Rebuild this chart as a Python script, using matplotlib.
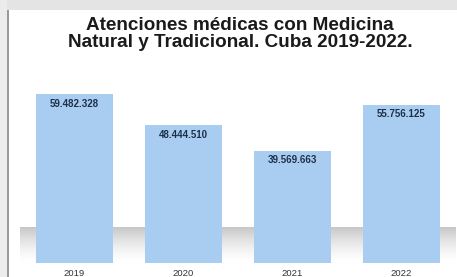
import matplotlib
matplotlib.use("Agg")
import matplotlib.pyplot as plt
import numpy as np
from matplotlib.patches import Rectangle

years = ["2019", "2020", "2021", "2022"]
atenciones = [59482328, 48444510, 39569663, 55756125]
etiquetas = ["59.482.328", "48.444.510", "39.569.663", "55.756.125"]

plt.rcParams["font.family"] = ["Liberation Sans", "DejaVu Sans"]

fig = plt.figure(figsize=(4.57, 2.77), dpi=100)
fig.patch.set_facecolor("white")

# slide frame: grey band on top, grey strip + rule at the left
fig.patches.append(Rectangle((0, 1 - 10 / 277), 1, 10 / 277, transform=fig.transFigure,
                             facecolor="#e4e4e4", edgecolor="none", zorder=0))
fig.patches.append(Rectangle((0, 0), 7 / 457, 1, transform=fig.transFigure,
                             facecolor="#ececec", edgecolor="none", zorder=0))
fig.patches.append(Rectangle((7 / 457, 0), 2 / 457, 1 - 10 / 277, transform=fig.transFigure,
                             facecolor="#9a9a9a", edgecolor="none", zorder=0))

ax = fig.add_axes([20 / 457, 1 - 263 / 277, 436 / 457, 183 / 277])
ax.set_facecolor("none")

# soft grey "floor" shadow behind the bars: grey at its top edge, fading to white
t = np.linspace(0.0, 1.0, 64)[:, None]
shade = 1.0 - 0.22 * t ** 1.5
rgb = np.dstack([shade, shade, shade])
ax.imshow(rgb, extent=(-0.5, 3.5, 0, 12.5e6), origin="lower", aspect="auto",
          zorder=0, interpolation="bilinear")

x = range(len(years))
bars = ax.bar(x, atenciones, width=0.70, color="#a9cdf0", edgecolor="none", zorder=2)
for b, lab in zip(bars, etiquetas):
    ax.annotate(lab, (b.get_x() + b.get_width() / 2, b.get_height()),
                xytext=(0, -3.5), textcoords="offset points", ha="center", va="top",
                fontsize=7, fontweight="bold", color="#1f2f4a", zorder=3)
ax.set_xlim(-0.5, 3.5)
ax.set_ylim(0, 64.4e6)
ax.set_xticks(list(x))
ax.set_xticklabels(years, fontsize=6.8, color="#333333")
ax.tick_params(axis="x", length=0, pad=4)
ax.set_yticks([])
for s in ax.spines.values():
    s.set_visible(False)

fig.text(240 / 457, 1 - 34 / 277, "Atenciones médicas con Medicina\nNatural y Tradicional. Cuba 2019-2022.",
         ha="center", va="center", fontsize=13.6, fontweight="bold", color="#1a1a1a", linespacing=0.93)

fig.savefig("out.png", dpi=100)
